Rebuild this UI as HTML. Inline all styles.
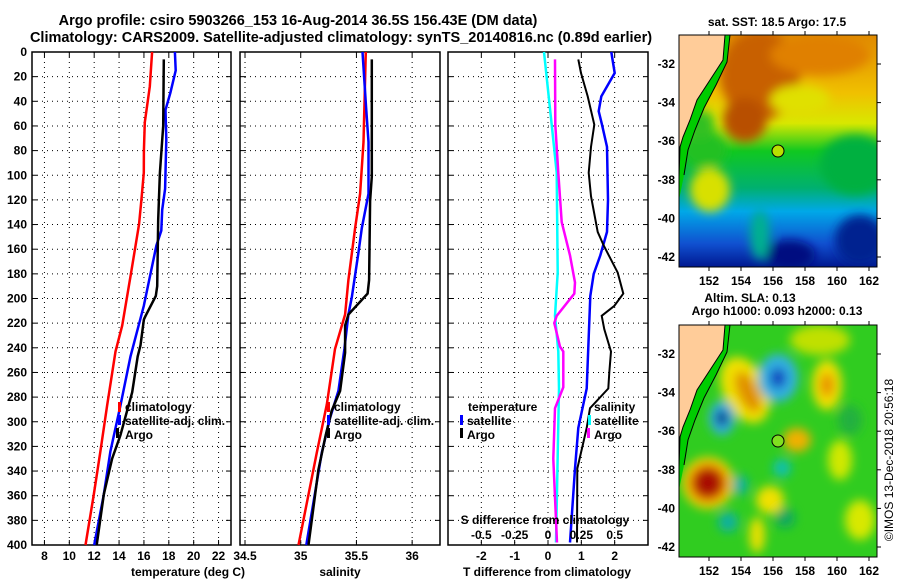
<!DOCTYPE html>
<html><head><meta charset="utf-8"><style>
html,body{margin:0;padding:0;background:#fff}
svg{display:block;font-family:"Liberation Sans",sans-serif;font-weight:bold}
</style></head><body>
<svg id="chart" width="900" height="580" viewBox="0 0 900 580" xmlns="http://www.w3.org/2000/svg">
<defs>
<filter id="blur" x="-20%" y="-20%" width="140%" height="140%"><feGaussianBlur stdDeviation="5"/></filter>
<clipPath id="clipTop"><rect x="679" y="35" width="198" height="232"/></clipPath>
<clipPath id="clipBot"><rect x="679" y="325" width="198" height="232"/></clipPath>
<linearGradient id="sstGrad" x1="0" y1="0" x2="0" y2="1">
<stop offset="0" stop-color="#e08a00"/><stop offset="0.25" stop-color="#f0c000"/><stop offset="0.38" stop-color="#d8e800"/><stop offset="0.5" stop-color="#10c820"/><stop offset="0.66" stop-color="#00b070"/><stop offset="0.76" stop-color="#00a8e8"/><stop offset="0.9" stop-color="#1050d0"/><stop offset="1" stop-color="#001890"/>
</linearGradient>
</defs>
<text x="298" y="25" font-size="14.5" text-anchor="middle">Argo profile: csiro 5903266_153 16-Aug-2014 36.5S 156.43E (DM data)</text>
<text x="341" y="42" font-size="14.5" text-anchor="middle">Climatology: CARS2009. Satellite-adjusted climatology: synTS_20140816.nc (0.89d earlier)</text>
<g id="panels"></g>

<!-- SST map -->
<g>
<text x="777" y="26" font-size="12" text-anchor="middle">sat. SST: 18.5 Argo: 17.5</text>
<g clip-path="url(#clipTop)">
<rect x="679" y="35" width="198" height="232" fill="url(#sstGrad)"/>
<g filter="url(#blur)">
<ellipse cx="760" cy="75" rx="40" ry="45" fill="#c86000"/>
<ellipse cx="745" cy="120" rx="22" ry="22" fill="#b85000"/>
<ellipse cx="820" cy="55" rx="50" ry="20" fill="#e08000"/>
<ellipse cx="800" cy="100" rx="30" ry="15" fill="#e0e000"/>
<ellipse cx="855" cy="165" rx="35" ry="30" fill="#00b040"/>
<ellipse cx="710" cy="190" rx="20" ry="22" fill="#d8e000"/>
<ellipse cx="705" cy="150" rx="22" ry="18" fill="#20c020"/>
<ellipse cx="700" cy="125" rx="15" ry="15" fill="#30c020"/>
<ellipse cx="790" cy="255" rx="25" ry="15" fill="#001080"/>
<ellipse cx="860" cy="240" rx="25" ry="25" fill="#002090"/>
<ellipse cx="760" cy="235" rx="10" ry="25" fill="#00b090"/>
</g>
</g>
<polygon points="725,35 730,35 727,62 716,85 704,108 695,130 688,150 684,175 679,200 679,177 680,147 683,137 690,120 697,100 710,80 723,60" fill="#00cc00"/>
<polygon points="679,35 725,35 723,60 710,80 697,100 690,120 683,137 680,147 679,177" fill="#ffcc99"/>
<polyline points="725,35 723,60 710,80 697,100 690,120 683,137 680,147 679,177" fill="none" stroke="#000" stroke-width="1"/>
<polyline points="730,35 727,62 716,85 704,108 695,130 688,150 684,175" fill="none" stroke="#000" stroke-width="1"/>
<rect x="679" y="35" width="198" height="232" fill="none" stroke="#000" stroke-width="1"/>
<circle cx="778" cy="151" r="6" fill="#b8e000" stroke="#000" stroke-width="1"/>
<g id="sstAxes"></g>
</g>

<!-- SLA map -->
<g>
<text x="750" y="302" font-size="12" text-anchor="middle">Altim. SLA: 0.13</text>
<text x="777" y="315" font-size="12" text-anchor="middle">Argo h1000: 0.093 h2000: 0.13</text>
<g clip-path="url(#clipBot)">
<rect x="679" y="325" width="198" height="232" fill="#30cc20"/>
<g filter="url(#blur)">
<ellipse cx="745" cy="390" rx="22" ry="35" fill="#f0e000" transform="rotate(-25 745 390)"/>
<ellipse cx="748" cy="392" rx="10" ry="22" fill="#e09000" transform="rotate(-25 748 392)"/>
<ellipse cx="778" cy="378" rx="20" ry="24" fill="#30b0e0"/>
<ellipse cx="778" cy="378" rx="8" ry="10" fill="#1040c0"/>
<ellipse cx="722" cy="418" rx="13" ry="17" fill="#30b0e0"/>
<ellipse cx="722" cy="418" rx="6" ry="8" fill="#002080"/>
<ellipse cx="708" cy="483" rx="26" ry="26" fill="#f0d000"/>
<ellipse cx="708" cy="483" rx="19" ry="19" fill="#e06000"/>
<ellipse cx="708" cy="483" rx="14" ry="14" fill="#a81000"/>
<ellipse cx="827" cy="385" rx="15" ry="25" fill="#f0e000"/>
<ellipse cx="827" cy="385" rx="7" ry="12" fill="#e89000"/>
<ellipse cx="797" cy="440" rx="14" ry="12" fill="#f0b000"/>
<ellipse cx="782" cy="468" rx="9" ry="9" fill="#10c0b0"/>
<ellipse cx="740" cy="485" rx="8" ry="10" fill="#10b0a0"/>
<ellipse cx="728" cy="522" rx="10" ry="10" fill="#10b0a0"/>
<ellipse cx="785" cy="518" rx="10" ry="10" fill="#10a860"/>
<ellipse cx="770" cy="500" rx="14" ry="14" fill="#f0e000"/>
<ellipse cx="757" cy="535" rx="8" ry="18" fill="#e8e000"/>
<ellipse cx="840" cy="460" rx="12" ry="20" fill="#d0e800"/>
<ellipse cx="860" cy="520" rx="15" ry="20" fill="#d8e800"/>
<ellipse cx="820" cy="340" rx="30" ry="15" fill="#c0e000"/>
<ellipse cx="850" cy="420" rx="12" ry="15" fill="#20b040"/>
</g>
</g>
<polygon points="725,325 730,325 727,352 716,375 704,398 695,420 688,440 684,465 679,490 679,467 680,437 683,427 690,410 697,390 710,370 723,350" fill="#00cc00"/>
<polygon points="679,325 725,325 723,350 710,370 697,390 690,410 683,427 680,437 679,467" fill="#ffcc99"/>
<polyline points="725,325 723,350 710,370 697,390 690,410 683,427 680,437 679,467" fill="none" stroke="#000" stroke-width="1"/>
<polyline points="730,325 727,352 716,375 704,398 695,420 688,440 684,465" fill="none" stroke="#000" stroke-width="1"/>
<rect x="679" y="325" width="198" height="232" fill="none" stroke="#000" stroke-width="1"/>
<circle cx="778" cy="441" r="6" fill="#80e020" stroke="#000" stroke-width="1"/>
<g id="slaAxes"></g>
</g>
<text transform="translate(893,460) rotate(-90)" font-size="12" font-weight="normal" text-anchor="middle">©IMOS 13-Dec-2018 20:56:18</text>
</svg>
<script>
// ---------- data ----------
const tempClimDepth = [0,28,57,80,98,120,140,180,222,243,287,324,359,400];
const tempClim = [16.66,16.47,16.07,16.0,15.99,15.8,15.6,14.95,14.25,13.71,13.04,12.5,11.97,11.3];
const tempSatDepth = [0,15,33,47,71,111,128,145,157,206,247,287,324,359,400];
const tempSat = [18.49,18.55,18.13,17.73,17.8,17.7,17.47,17.4,17.0,15.99,14.92,14.11,13.3,12.77,12.0];
const tempArgoDepth = [6,60,98,136,190,198,214,217,238,247,276,311,330,359,400];
const tempArgo = [17.6,17.55,17.28,17.15,17.07,16.95,16.13,16.0,15.72,15.5,15.06,14.11,13.44,12.77,12.2];

const salClimDepth = [0,73,115,143,185,213,241,286,325,400];
const salClim = [35.584,35.563,35.533,35.488,35.428,35.398,35.308,35.234,35.144,34.98];
const salSatDepth = [0,45,73,115,143,163,199,213,241,275,297,325,400];
const salSat = [35.554,35.587,35.608,35.608,35.548,35.518,35.458,35.428,35.392,35.338,35.263,35.189,35.05];
const salArgoDepth = [6,101,121,185,196,213,222,244,275,291,311,339,400];
const salArgo = [35.638,35.638,35.623,35.614,35.6,35.428,35.398,35.398,35.353,35.278,35.224,35.159,35.07];

const dTSatDepth = [0,17,36,48,59,77,120,146,165,180,198,273,305,338,398];
const dTSat = [1.9,2.0,1.6,1.52,1.62,1.77,1.8,1.77,1.57,1.37,1.27,1.16,0.91,0.81,0.66];
const dTArgoDepth = [6,17,36,59,77,98,117,146,157,179,196,206,214,225,243,260,273,289,305,331,338,398];
const dTArgo = [0.91,0.99,1.19,1.39,1.29,1.22,1.29,1.49,1.67,2.09,2.26,1.99,1.61,1.69,1.89,1.84,1.81,1.26,1.16,0.94,0.88,0.87];
const dSSatDepth = [0,59,98,179,214,243,273,398];
const dSSat = [-0.03,0.0275,0.065,0.0725,0.0525,0.0775,0.0825,0.06];
const dSArgoDepth = [6,59,98,138,165,187,196,214,220,239,243,272,289,330,398];
const dSArgo = [0.0525,0.055,0.0775,0.1025,0.165,0.2025,0.1975,0.065,0.0475,0.09,0.115,0.115,0.0525,0.04,0.0675];

const depthTicks = [0,20,40,60,80,100,120,140,160,180,200,220,240,260,280,300,320,340,360,380,400];
const tempTicks = [8,10,12,14,16,18,20,22];
const salTicks = [34.5,35,35.5,36];
const salTickLabels = ["34.5","35","35.5","36"];
const dTTicks = [-2,-1,0,1,2];
const dSTicks = [-0.5,-0.25,0,0.25,0.5];
const dSTickLabels = ["-0.5","-0.25","0","0.25","0.5"];
const lonTicks = [152,154,156,158,160,162];
const latTicks = [-32,-34,-36,-38,-40,-42];

// ---------- helpers ----------
const NS = "http://www.w3.org/2000/svg";
const Y0 = 52, Y1 = 545;
function yD(d){ return Y0 + d*(Y1-Y0)/400; }
function mk(tag, attrs, parent){
  const e = document.createElementNS(NS, tag);
  for (const k in attrs) e.setAttribute(k, attrs[k]);
  parent.appendChild(e); return e;
}
const panels = document.getElementById('panels');

function panel(name, x0, x1, vmin, vmax, ticks, labels, showDepth){
  const g = mk('g', {}, panels);
  
  
  const sx = v => x0 + (v - vmin)*(x1 - x0)/(vmax - vmin);
  ticks.forEach(t => {
    const l = mk('line', {x1:sx(t), x2:sx(t), y1:Y0, y2:Y1, stroke:'#000', 'stroke-width':1, 'stroke-dasharray':'1 4'}, g);
    
    
  });
  depthTicks.forEach(d => {
    if (d>0 && d<400){
      const l = mk('line', {x1:x0, x2:x1, y1:yD(d), y2:yD(d), stroke:'#000', 'stroke-width':1, 'stroke-dasharray':'1 4'}, g);
      
      
    }
    mk('line', {x1:x0, x2:x0+5, y1:yD(d), y2:yD(d), stroke:'#000'}, g);
    mk('line', {x1:x1-5, x2:x1, y1:yD(d), y2:yD(d), stroke:'#000'}, g);
    if (showDepth){
      const t = mk('text', {x:x0-5, y:yD(d)+4, 'font-size':12, 'text-anchor':'end'}, g);
      
      
      t.textContent = d;
    }
  });
  ticks.forEach((t,i) => {
    mk('line', {x1:sx(t), x2:sx(t), y1:Y1-5, y2:Y1, stroke:'#000'}, g);
    mk('line', {x1:sx(t), x2:sx(t), y1:Y0, y2:Y0+5, stroke:'#000'}, g);
    if (labels){
      const tx = mk('text', {x:sx(t), y:560, 'font-size':12, 'text-anchor':'middle'}, g);
      
      
      tx.textContent = labels[i];
    }
  });
  const b = mk('rect', {x:x0, y:Y0, width:x1-x0, height:Y1-Y0, fill:'none', stroke:'#000', 'stroke-width':1.5}, g);
  
  
  return {g, sx};
}
function series(p, name, depths, vals, color, w, scale){
  const pts = depths.map((d,i) => p.sx(vals[i]*(scale||1)).toFixed(1) + ',' + yD(d).toFixed(1)).join(' ');
  const l = mk('polyline', {points:pts, fill:'none', stroke:color, 'stroke-width':w, 'stroke-linejoin':'miter'}, p.g);
  
  
}
function txt(g, name, x, y, s, size, anchor){
  const t = mk('text', {x:x, y:y, 'font-size':size||12, 'text-anchor':anchor||'start'}, g);
  
  
  t.textContent = s;
}
function mark(g, name, x, y, color){
  const r = mk('rect', {x:x, y:y, width:3, height:10, fill:color}, g);
  
  
}

// ---------- temperature panel ----------
const p1 = panel('temperature-panel', 32, 231, 7, 23, tempTicks, tempTicks.map(String), true);
series(p1, 'temp-climatology-line', tempClimDepth, tempClim, '#ff0000', 2.5);
series(p1, 'temp-satellite-line', tempSatDepth, tempSat, '#0000ff', 2.5);
series(p1, 'temp-argo-line', tempArgoDepth, tempArgo, '#000000', 2.5);
txt(p1.g, 'temperature-axis-title', 131, 576, 'temperature (deg C)');
mark(p1.g, 'legend-climatology-marker', 118, 402, '#ff0000');
mark(p1.g, 'legend-satellite-marker', 118, 415, '#0000ff');
mark(p1.g, 'legend-argo-marker', 116, 428, '#000000');
txt(p1.g, 'legend-climatology', 125, 411, 'climatology');
txt(p1.g, 'legend-satellite-adj', 125, 425, 'satellite-adj. clim.');
txt(p1.g, 'legend-argo', 125, 439, 'Argo');

// ---------- salinity panel ----------
const p2 = panel('salinity-panel', 240, 440, 34.455, 36.25, salTicks, salTickLabels, false);
series(p2, 'sal-climatology-line', salClimDepth, salClim, '#ff0000', 2.5);
series(p2, 'sal-satellite-line', salSatDepth, salSat, '#0000ff', 2.5);
series(p2, 'sal-argo-line', salArgoDepth, salArgo, '#000000', 2.5);
txt(p2.g, 'salinity-axis-title', 340, 576, 'salinity', 12, 'middle');
mark(p2.g, 'legend-climatology-marker', 327, 402, '#ff0000');
mark(p2.g, 'legend-satellite-marker', 327, 415, '#0000ff');
mark(p2.g, 'legend-argo-marker', 327, 428, '#000000');
txt(p2.g, 'legend-climatology', 334, 411, 'climatology');
txt(p2.g, 'legend-satellite-adj', 334, 425, 'satellite-adj. clim.');
txt(p2.g, 'legend-argo', 334, 439, 'Argo');

// ---------- difference panel ----------
const p3 = panel('difference-panel', 448, 648, -3, 3, dTTicks, dTTicks.map(String), false);
series(p3, 'salinity-satellite-diff-line', dSSatDepth, dSSat, '#00ffff', 2.5, 4);
series(p3, 'salinity-argo-diff-line', dSArgoDepth, dSArgo, '#ff00ff', 2.5, 4);
series(p3, 'temp-satellite-diff-line', dTSatDepth, dTSat, '#0000ff', 2.5);
series(p3, 'temp-argo-diff-line', dTArgoDepth, dTArgo, '#000000', 2);
txt(p3.g, 't-diff-axis-title', 547, 576, 'T difference from climatology', 12, 'middle');
txt(p3.g, 's-diff-axis-title', 545, 524, 'S difference from climatology', 12, 'middle');
dSTicks.forEach((t,i) => txt(p3.g, 's-diff-tick-label', p3.sx(t*4), 539, dSTickLabels[i], 12, 'middle'));
txt(p3.g, 'legend-temperature-heading', 468, 411, 'temperature');
mark(p3.g, 'legend-temp-satellite-marker', 460, 415, '#0000ff');
mark(p3.g, 'legend-temp-argo-marker', 460, 428, '#000000');
txt(p3.g, 'legend-temp-satellite', 467, 425, 'satellite');
txt(p3.g, 'legend-temp-argo', 467, 439, 'Argo');
txt(p3.g, 'legend-salinity-heading', 594, 411, 'salinity');
mark(p3.g, 'legend-sal-satellite-marker', 588, 415, '#00ffff');
mark(p3.g, 'legend-sal-argo-marker', 587, 428, '#ff00ff');
txt(p3.g, 'legend-sal-satellite', 594, 425, 'satellite');
txt(p3.g, 'legend-sal-argo', 594, 439, 'Argo');

// ---------- map axes ----------
function mapAxes(id, top, bottom, lat32y){
  const g = document.getElementById(id);
  const lx = lon => 709 + (lon-152)*16;
  const ly = lat => lat32y + (-32 - lat)*19.3;
  lonTicks.forEach(l => {
    mk('line', {x1:lx(l), x2:lx(l), y1:bottom, y2:bottom+4, stroke:'#000'}, g);
    mk('line', {x1:lx(l), x2:lx(l), y1:top-4, y2:top, stroke:'#000'}, g);
    txt(g, 'lon-tick-label', lx(l), bottom+18, String(l), 12, 'middle');
  });
  latTicks.forEach(l => {
    mk('line', {x1:877, x2:881, y1:ly(l), y2:ly(l), stroke:'#000'}, g);
    txt(g, 'lat-tick-label', 675, ly(l)+4, String(l), 12, 'end');
  });
}
mapAxes('sstAxes', 35, 267, 64);
mapAxes('slaAxes', 325, 557, 354);
</script>
</body></html>
